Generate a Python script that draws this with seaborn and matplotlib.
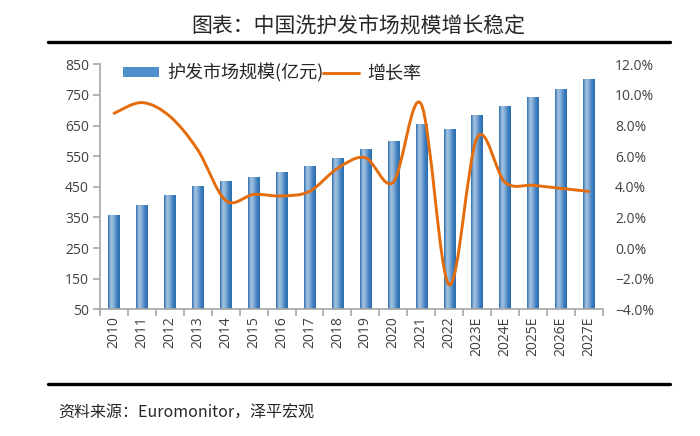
import numpy as np
import pandas as pd
import matplotlib
matplotlib.use("Agg")
import matplotlib.pyplot as plt
import seaborn as sns
from matplotlib.path import Path
from matplotlib.patches import PathPatch, Patch
from matplotlib.lines import Line2D
from matplotlib.colors import LinearSegmentedColormap
from matplotlib.ticker import FixedLocator, PercentFormatter

years = ['2010', '2011', '2012', '2013', '2014', '2015', '2016', '2017', '2018',
         '2019', '2020', '2021', '2022', '2023E', '2024E', '2025E', '2026E', '2027E']
market = [355, 388, 422, 449, 465, 481, 496, 515, 541,
          572, 596, 651, 635, 681, 710, 741, 768, 798]
growth = [8.8, 9.5, 8.6, 6.4, 3.1, 3.5, 3.4, 3.7, 5.2,
          5.9, 4.3, 9.4, -2.4, 7.2, 4.3, 4.1, 3.9, 3.7]

sns.set_style('white')
plt.rcParams['font.family'] = ['Open Sans', 'Noto Sans CJK SC', 'DejaVu Sans']

df = pd.DataFrame({'year': years, 'market': market, 'growth': growth})

fig = plt.figure(figsize=(7, 4.36), dpi=100)
ax = fig.add_axes([0.143, 0.2906, 0.718, 0.5619])

sns.barplot(data=df, x='year', y='market', ax=ax, width=0.4, color='#5b9bd5',
            edgecolor='none', saturation=1)

ymin, ymax = 50, 850

# horizontal gradient inside each bar (dark edges, light centre)
bar_cmap = LinearSegmentedColormap.from_list(
    'bar', ['#2a6cad', '#a9c7e2', '#7fa9d3', '#3f80c0', '#2a6cad'])
grad = np.linspace(0, 1, 64).reshape(1, -1)
for p in list(ax.patches):
    x0 = p.get_x()
    top = p.get_y() + p.get_height()
    ax.imshow(grad, cmap=bar_cmap, aspect='auto', interpolation='bicubic',
              extent=[x0, x0 + p.get_width(), ymin, top], zorder=2)
    p.set_visible(False)

ax.set_xlim(-0.5, len(years) - 0.5)
ax.set_ylim(ymin, ymax)
ax.set_yticks(np.arange(50, 851, 100))
ax.set_xlabel('')
ax.set_ylabel('')

grey = '#a6a6a6'
for s in ['top', 'right']:
    ax.spines[s].set_visible(False)
for s in ['left', 'bottom']:
    ax.spines[s].set_color(grey)
    ax.spines[s].set_linewidth(1.2)
    ax.spines[s].set_zorder(3)
ax.tick_params(axis='y', which='major', length=5, width=1.2, color=grey, direction='out',
               left=True, labelsize=10, labelcolor='#404040', pad=3)
ax.xaxis.set_minor_locator(FixedLocator(np.arange(-0.5, len(years), 1)))
ax.tick_params(axis='x', which='major', length=0, labelsize=10, labelcolor='#404040',
               rotation=90, pad=5)
ax.tick_params(axis='x', which='minor', length=5, width=1.2, color=grey, direction='out',
               bottom=True)

# growth rate on secondary axis, smoothed like an Excel line
ax2 = ax.twinx()
ax2.set_ylim(-4, 12)
ax2.set_yticks(np.arange(-4, 12.1, 2))
ax2.yaxis.set_major_formatter(PercentFormatter(decimals=1))
ax2.tick_params(axis='y', length=0, labelsize=10, labelcolor='#404040', pad=9)
for s in ax2.spines.values():
    s.set_visible(False)

xs = np.arange(len(growth), dtype=float)
pts = np.column_stack([xs, np.array(growth, dtype=float)])
verts = [pts[0]]
codes = [Path.MOVETO]
n = len(pts)
for i in range(n - 1):
    p_prev = pts[i - 1] if i > 0 else pts[i]
    p_next2 = pts[i + 2] if i + 2 < n else pts[i + 1]
    c1 = pts[i] + (pts[i + 1] - p_prev) / 6.0
    c2 = pts[i + 1] - (p_next2 - pts[i]) / 6.0
    verts += [c1, c2, pts[i + 1]]
    codes += [Path.CURVE4] * 3
ax2.add_patch(PathPatch(Path(verts, codes), facecolor='none', edgecolor='#e46c0a',
                        lw=2.1, capstyle='round', joinstyle='round', zorder=5))
ax2.set_xlim(-0.5, len(years) - 0.5)

handles = [Patch(facecolor='#4f8fcb', edgecolor='none', label='护发市场规模(亿元)'),
           Line2D([], [], color='#e46c0a', lw=2.1, label='增长率')]
ax2.legend(handles=handles, loc='center left', bbox_to_anchor=(0.045, 0.965), ncol=2,
           frameon=False, handlelength=2.0, handleheight=0.55,
           handletextpad=0.45, columnspacing=0.0, borderpad=0, borderaxespad=0,
           prop={'family': ['Noto Sans CJK SC', 'DejaVu Sans'], 'size': 13})

fig.text(0.512, 0.94, '图表：中国洗护发市场规模增长稳定', ha='center', va='center',
         fontsize=15, color='#262626', family=['Noto Sans CJK SC', 'DejaVu Sans'])
fig.add_artist(Line2D([48 / 700, 670 / 700], [1 - 42 / 436, 1 - 42 / 436],
                      transform=fig.transFigure, color='black', lw=2.4))
fig.add_artist(Line2D([48 / 700, 670 / 700], [1 - 384 / 436, 1 - 384 / 436],
                      transform=fig.transFigure, color='black', lw=2.4))
fig.text(58 / 700, 1 - 413 / 436, '资料来源：Euromonitor，泽平宏观', ha='left', va='center',
         fontsize=11.5, color='#262626', style='italic',
         family=['Noto Sans CJK SC', 'DejaVu Sans'])

fig.savefig('out.png', dpi=100, facecolor='white')
